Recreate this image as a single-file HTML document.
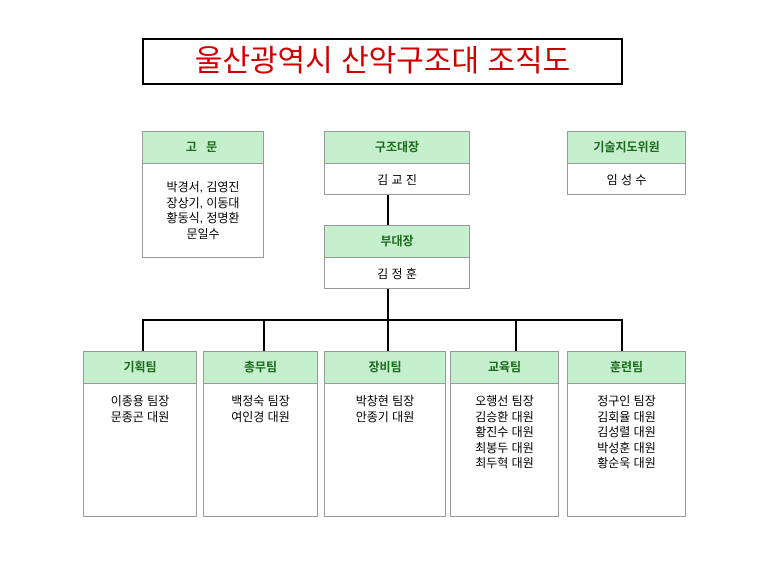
<!DOCTYPE html>
<html><head><meta charset="utf-8"><style>
body{margin:0;width:770px;height:582px;background:#fff;position:relative;font-family:"Liberation Sans","Noto Sans CJK KR",sans-serif;overflow:hidden}
.b{position:absolute;border:1px solid #999;box-sizing:border-box;background:#fff}
.h{height:31px;background:#c6efce;border-bottom:1px solid #999;color:#1a6b1a;font-size:12px;font-weight:bold;text-align:center;line-height:31px}
.c{font-size:12px;text-align:center;line-height:15.5px;padding-top:10px;color:#000}
.l{position:absolute;background:#000}
</style></head><body>
<div style="position:absolute;left:142px;top:38px;width:481px;height:47px;border:2px solid #000;box-sizing:border-box;color:#d00000;font-size:30px;text-align:center;line-height:43px">울산광역시 산악구조대 조직도</div>
<div class="l" style="left:387px;top:194px;width:2px;height:31px"></div>
<div class="l" style="left:387px;top:288px;width:2px;height:32px"></div>
<div class="l" style="left:142px;top:319px;width:481px;height:2px"></div>
<div class="l" style="left:142px;top:320px;width:2px;height:31px"></div>
<div class="l" style="left:263px;top:320px;width:2px;height:31px"></div>
<div class="l" style="left:387px;top:320px;width:2px;height:31px"></div>
<div class="l" style="left:515px;top:320px;width:2px;height:31px"></div>
<div class="l" style="left:621px;top:320px;width:2px;height:31px"></div>
<div class="b" style="left:142px;top:131px;width:122px;height:127px"><div class="h" style="letter-spacing:3px">고 문</div><div class="c" style="padding-top:16px">박경서, 김영진<br>장상기, 이동대<br>황동식, 정명환<br>문일수</div></div>
<div class="b" style="left:324px;top:131px;width:146px;height:64px"><div class="h">구조대장</div><div class="c" style="padding-top:9px">김 교 진</div></div>
<div class="b" style="left:567px;top:131px;width:119px;height:64px"><div class="h">기술지도위원</div><div class="c" style="padding-top:9px">임 성 수</div></div>
<div class="b" style="left:324px;top:225px;width:146px;height:64px"><div class="h">부대장</div><div class="c" style="padding-top:9px">김 정 훈</div></div>
<div class="b" style="left:83px;top:351px;width:114px;height:166px"><div class="h">기획팀</div><div class="c">이종용 팀장<br>문종곤 대원</div></div>
<div class="b" style="left:203px;top:351px;width:115px;height:166px"><div class="h">총무팀</div><div class="c">백정숙 팀장<br>여인경 대원</div></div>
<div class="b" style="left:324px;top:351px;width:122px;height:166px"><div class="h">장비팀</div><div class="c">박창현 팀장<br>안종기 대원</div></div>
<div class="b" style="left:450px;top:351px;width:109px;height:166px"><div class="h">교육팀</div><div class="c">오행선 팀장<br>김승환 대원<br>황진수 대원<br>최봉두 대원<br>최두혁 대원</div></div>
<div class="b" style="left:567px;top:351px;width:119px;height:166px"><div class="h">훈련팀</div><div class="c">정구인 팀장<br>김회율 대원<br>김성렬 대원<br>박성훈 대원<br>황순욱 대원</div></div>
</body></html>
